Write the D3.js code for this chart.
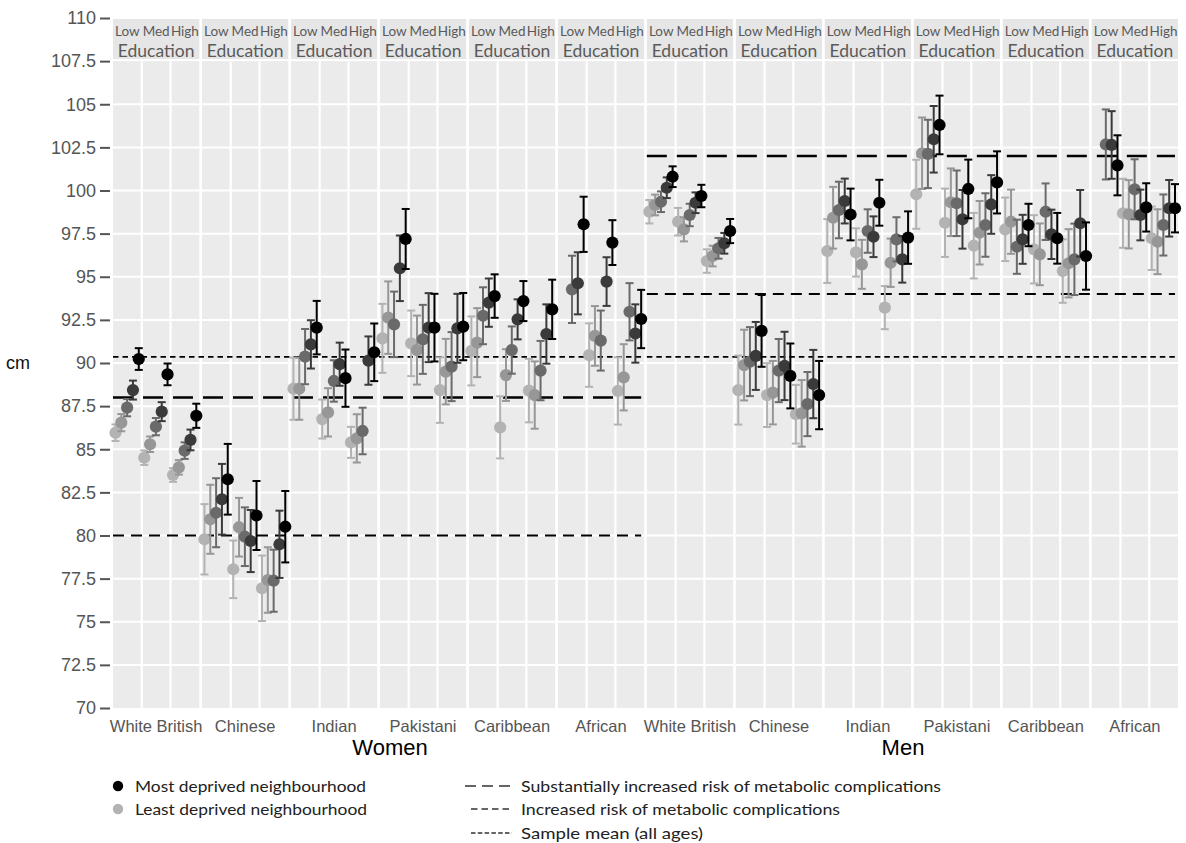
<!DOCTYPE html>
<html>
<head>
<meta charset="utf-8">
<script src="https://cdn.jsdelivr.net/npm/d3@7"></script>
<style>
  html, body { margin: 0; padding: 0; background: #fff; }
  svg { display: block; }
</style>
</head>
<body>
<svg id="chart" width="1186" height="843"></svg>
<script>
// ---- Data -------------------------------------------------------------
const sexes = ["Women", "Men"];
const ethnicGroups = ["White British", "Chinese", "Indian", "Pakistani", "Caribbean", "African"];
const educationLevels = ["Low", "Med", "High"];
const deprivationQuintiles = ["Q1", "Q2", "Q3", "Q4", "Q5"]; // Q1 least deprived .. Q5 most deprived
const quintileColours = ["#b3b3b3", "#979797", "#6a6a6a", "#3a3a3a", "#000000"];
const yTicks = [70, 72.5, 75, 77.5, 80, 82.5, 85, 87.5, 90, 92.5, 95, 97.5, 100, 102.5, 105, 107.5, 110];

// Mean waist circumference (cm); each row = one ethnic group,
// 15 values = Low / Med / High education x 5 deprivation quintiles
const womenMean = [
  [85.96, 86.54, 87.41, 88.43, 90.23,  84.51, 85.29, 86.31, 87.18, 89.34,  83.51, 83.95, 84.92, 85.54, 86.94],
  [79.78, 80.94, 81.32, 82.10, 83.26,  78.04, 80.48, 79.93, 79.68, 81.16,  76.94, 77.42, 77.38, 79.49, 80.51],
  [88.51, 88.51, 90.37, 91.08, 92.05,  86.75, 87.14, 88.96, 89.93, 89.12,  85.40, 85.63, 86.06, 90.14, 90.62],
  [91.43, 92.63, 92.24, 95.49, 97.19,  91.14, 90.75, 91.37, 92.05, 92.05,  88.43, 89.50, 89.79, 92.01, 92.11],
  [90.70, 91.18, 92.74, 93.50, 93.88,  86.27, 89.30, 90.75, 92.53, 93.59,  88.40, 88.14, 89.56, 91.68, 93.11],
  [null,  null,  94.27, 94.62, 98.04,  90.46, 91.57, 91.30, 94.72, 96.98,  88.38, 89.17, 92.97, 91.71, 92.55]
];
// Half-width of the 95% confidence interval (cm)
const womenCI = [
  [0.48, 0.50, 0.50, 0.55, 0.63,  0.42, 0.45, 0.50, 0.55, 0.63,  0.40, 0.42, 0.48, 0.60, 0.70],
  [2.04, 2.00, 2.00, 2.05, 2.05,  1.67, 1.70, 1.70, 1.80, 2.00,  1.90, 1.90, 1.80, 1.95, 2.07],
  [1.80, 1.80, 1.60, 1.40, 1.55,  1.13, 1.40, 1.20, 1.25, 1.66,  0.90, 1.40, 1.35, 1.40, 1.67],
  [2.00, 2.10, 1.90, 1.90, 1.74,  1.90, 2.00, 2.00, 2.00, 1.96,  1.90, 1.90, 2.00, 2.00, 1.95],
  [2.00, 2.00, 1.65, 1.40, 1.26,  1.80, 1.50, 1.37, 1.16, 1.16,  1.84, 1.95, 1.72, 1.72, 1.72],
  [null, null, 1.95, 1.80, 1.60,  1.84, 1.73, 1.74, 1.41, 1.30,  1.95, 1.92, 1.66, 1.69, 1.69]
];
const menMean = [
  [98.77, 99.16, 99.35, 100.16, 100.80,  98.19, 97.75, 98.58, 99.29, 99.68,  95.91, 96.20, 96.65, 96.94, 97.65],
  [88.43, 89.88, 90.08, 90.41, 91.86,  88.14, 88.28, 89.56, 89.83, 89.25,  87.03, 87.08, 87.62, 88.78, 88.14],
  [96.49, 98.42, 98.87, 99.39, 98.61,  96.41, 95.72, 97.65, 97.32, 99.29,  93.21, 95.81, 97.17, 96.01, 97.27],
  [99.78, 102.16, 102.12, 102.97, 103.80,  98.13, 99.32, 99.26, 98.33, 100.09,  96.80, 97.55, 98.00, 99.19, 100.47],
  [97.75, 98.19, 96.74, 97.17, 98.00,  96.59, 96.30, 98.77, 97.46, 97.23,  95.33, 95.78, 96.01, 98.10, 96.20],
  [null,  null,  102.67, 102.64, 101.46,  98.68, 98.62, 100.07, 98.58, 99.02,  97.23, 97.03, 98.00, 98.97, 98.97]
];
const menCI = [
  [0.68, 0.60, 0.60, 0.60, 0.60,  0.80, 0.70, 0.65, 0.60, 0.65,  0.68, 0.60, 0.60, 0.60, 0.70],
  [2.00, 2.05, 2.00, 1.97, 2.08,  1.85, 1.84, 1.83, 1.98, 1.88,  1.70, 1.93, 1.86, 1.98, 1.98],
  [1.85, 1.79, 1.64, 1.30, 1.50,  1.40, 1.42, 1.26, 1.18, 1.33,  1.25, 1.40, 1.28, 1.35, 1.52],
  [2.00, 2.07, 1.98, 1.93, 1.70,  1.98, 1.96, 1.90, 1.70, 1.70,  1.90, 1.84, 1.84, 1.70, 1.80],
  [1.84, 1.86, 1.57, 1.42, 1.23,  1.98, 1.79, 1.64, 1.43, 1.47,  1.84, 1.98, 2.07, 1.93, 1.95],
  [null, null, 2.03, 1.96, 1.74,  2.00, 1.98, 1.74, 1.47, 1.40,  1.84, 1.88, 1.77, 1.64, 1.40]
];

// Waist-circumference thresholds, per sex (Women, Men)
const substantialRisk = [88, 102];
const increasedRisk = [80, 94];
const sampleMean = [90.35, 90.35];

const legendPoints = ["Most deprived neighbourhood", "Least deprived neighbourhood"];
const legendLines = ["Substantially  increased risk of metabolic complications",
                     "Increased risk of metabolic complications",
                     "Sample mean (all ages)"];

// ---- Layout -----------------------------------------------------------
const svg = d3.select("#chart");
const y = d3.scaleLinear().domain([70, 110]).range([708, 18]);

const panelKeys = sexes.flatMap(s => ethnicGroups.map(g => s + "|" + g));
const xPanel = d3.scaleBand().domain(panelKeys).range([113, 1178]).paddingInner(0.03);
const xEdu = d3.scaleBand().domain(educationLevels).range([0, xPanel.bandwidth()]);
const xQ = d3.scalePoint().domain(deprivationQuintiles).range([2.5, xEdu.bandwidth() - 3]);

const records = [];
sexes.forEach((s, si) => {
  const means = si === 0 ? womenMean : menMean;
  const cis = si === 0 ? womenCI : menCI;
  ethnicGroups.forEach((g, gi) => {
    educationLevels.forEach((e, ei) => {
      deprivationQuintiles.forEach((q, qi) => {
        const m = means[gi][ei * 5 + qi];
        if (m == null) return;
        records.push({ key: s + "|" + g, edu: e, q, qi, mean: m, ci: cis[gi][ei * 5 + qi] });
      });
    });
  });
});

// ---- Panels, strips, grid --------------------------------------------
const panelTop = y(107.5), panelBottom = y(70);
const panels = svg.append("g").selectAll("g.panel").data(panelKeys).join("g")
  .attr("class", "panel")
  .attr("transform", k => `translate(${xPanel(k)},0)`);

panels.append("rect")
  .attr("x", 0).attr("y", panelTop).attr("width", xPanel.bandwidth()).attr("height", panelBottom - panelTop)
  .attr("fill", "#ebebeb");

panels.selectAll("line.hgrid").data(yTicks.filter(t => t > 70 && t < 107.5)).join("line")
  .attr("x1", 0).attr("x2", xPanel.bandwidth())
  .attr("y1", d => y(d)).attr("y2", d => y(d))
  .attr("stroke", "#fff").attr("stroke-width", 2);

panels.selectAll("line.vgrid").data(educationLevels.slice(1)).join("line")
  .attr("x1", d => xEdu(d)).attr("x2", d => xEdu(d))
  .attr("y1", panelTop).attr("y2", panelBottom)
  .attr("stroke", "#fff").attr("stroke-width", 2.2);

// facet strip: education levels
panels.append("rect")
  .attr("x", 0).attr("y", y(110) + 1).attr("width", xPanel.bandwidth()).attr("height", y(107.5) - y(110) - 3)
  .attr("fill", "#e6e6e6");
panels.selectAll("text.edu").data(educationLevels).join("text")
  .attr("x", d => xEdu(d) + xEdu.bandwidth() / 2)
  .attr("y", 36)
  .attr("text-anchor", "middle")
  .attr("font-family", "Lato, 'Open Sans', sans-serif")
  .attr("font-size", 13.5)
  .attr("fill", "#5a5a5a")
  .text(d => d);
panels.append("text")
  .attr("x", xPanel.bandwidth() / 2).attr("y", 57)
  .attr("text-anchor", "middle")
  .attr("font-family", "Lato, 'Open Sans', sans-serif")
  .attr("font-size", 17.5)
  .attr("fill", "#5a5a5a")
  .text("Education");

// ---- Reference lines ---------------------------------------------------
const refStyles = [
  { values: substantialRisk, dash: "20,10", width: 2.4 },
  { values: increasedRisk, dash: "11,7", width: 2.2 },
  { values: sampleMean, dash: "5.5,4", width: 1.8 }
];
const refG = svg.append("g");
refStyles.forEach(st => {
  sexes.forEach((s, si) => {
    const first = xPanel(s + "|" + ethnicGroups[0]);
    const last = xPanel(s + "|" + ethnicGroups[ethnicGroups.length - 1]) + xPanel.bandwidth();
    refG.append("line")
      .attr("x1", first).attr("x2", last - 3)
      .attr("y1", y(st.values[si])).attr("y2", y(st.values[si]))
      .attr("stroke", "#000").attr("stroke-width", st.width)
      .attr("stroke-dasharray", st.dash);
  });
});

// ---- Error bars and points -------------------------------------------
const px = d => xPanel(d.key) + xEdu(d.edu) + xQ(d.q);
const sorted = records.slice().sort((a, b) => a.qi - b.qi);
const marks = svg.append("g").selectAll("g.mark").data(sorted).join("g").attr("class", "mark");
marks.append("line")
  .attr("x1", px).attr("x2", px)
  .attr("y1", d => y(d.mean - d.ci)).attr("y2", d => y(d.mean + d.ci))
  .attr("stroke", d => quintileColours[d.qi]).attr("stroke-width", 2);
marks.append("line")
  .attr("x1", d => px(d) - 4).attr("x2", d => px(d) + 4)
  .attr("y1", d => y(d.mean - d.ci)).attr("y2", d => y(d.mean - d.ci))
  .attr("stroke", d => quintileColours[d.qi]).attr("stroke-width", 2);
marks.append("line")
  .attr("x1", d => px(d) - 4).attr("x2", d => px(d) + 4)
  .attr("y1", d => y(d.mean + d.ci)).attr("y2", d => y(d.mean + d.ci))
  .attr("stroke", d => quintileColours[d.qi]).attr("stroke-width", 2);
marks.append("circle")
  .attr("cx", px).attr("cy", d => y(d.mean)).attr("r", 6.1)
  .attr("fill", d => quintileColours[d.qi]);

// ---- Y axis -----------------------------------------------------------
const yAxis = svg.append("g").attr("transform", "translate(110,0)")
  .call(d3.axisLeft(y).tickValues(yTicks).tickSize(10).tickPadding(4).tickFormat(d => String(d)));
yAxis.select(".domain").remove();
yAxis.selectAll(".tick line").attr("stroke", "#555").attr("stroke-width", 2);
yAxis.selectAll(".tick text")
  .attr("font-family", "'Liberation Sans', Arial, sans-serif")
  .attr("font-size", 18).attr("fill", "#555");

svg.append("text")
  .attr("x", 18).attr("y", 369)
  .attr("text-anchor", "middle")
  .attr("font-family", "'Liberation Sans', Arial, sans-serif")
  .attr("font-size", 18).attr("fill", "#111")
  .text("cm");

// ---- X labels ------------------------------------------------------------
svg.append("g").selectAll("text").data(panelKeys).join("text")
  .attr("x", k => xPanel(k) + xPanel.bandwidth() / 2)
  .attr("y", 732)
  .attr("text-anchor", "middle")
  .attr("font-family", "'Liberation Sans', Arial, sans-serif")
  .attr("font-size", 16.5).attr("fill", "#555")
  .text(k => k.split("|")[1]);

svg.append("g").selectAll("text").data(sexes).join("text")
  .attr("x", (s, i) => i === 0 ? 390 : 903)
  .attr("y", 755)
  .attr("text-anchor", "middle")
  .attr("font-family", "'Liberation Sans', Arial, sans-serif")
  .attr("font-size", 22).attr("fill", "#000")
  .text(s => s);

// ---- Legend -------------------------------------------------------------
const legend = svg.append("g").attr("font-family", "Lato, 'Open Sans', sans-serif").attr("font-size", 16).attr("fill", "#222");
const legendRowY = [786, 809, 833];
const pointLegendWidths = [231, 232];
legendPoints.forEach((label, i) => {
  legend.append("circle").attr("cx", 118).attr("cy", legendRowY[i]).attr("r", 5.2)
    .attr("fill", i === 0 ? quintileColours[4] : quintileColours[0]);
  legend.append("text").attr("x", 135).attr("y", legendRowY[i] + 5.5)
    .attr("textLength", pointLegendWidths[i]).attr("lengthAdjust", "spacingAndGlyphs")
    .text(label);
});
const lineLegendDash = ["11,6", "6.5,4", "4.5,2.3"];
const lineLegendStart = [465, 471, 471];
const lineLegendWidths = [420, 319, 182];
legendLines.forEach((label, i) => {
  legend.append("line")
    .attr("x1", lineLegendStart[i]).attr("x2", 512)
    .attr("y1", legendRowY[i]).attr("y2", legendRowY[i])
    .attr("stroke", "#333").attr("stroke-width", 1.5)
    .attr("stroke-dasharray", lineLegendDash[i]);
  legend.append("text").attr("x", 521).attr("y", legendRowY[i] + 5.5)
    .attr("textLength", lineLegendWidths[i]).attr("lengthAdjust", "spacingAndGlyphs")
    .text(label);
});
</script>
</body>
</html>
